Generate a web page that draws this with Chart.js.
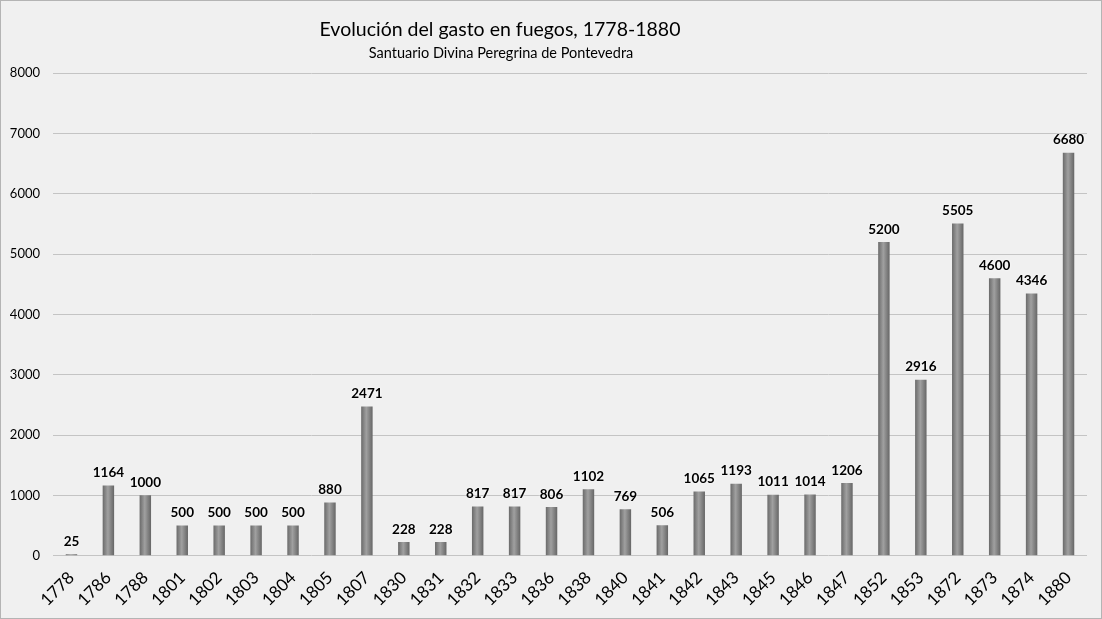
<!DOCTYPE html>
<html>
<head>
<meta charset="utf-8">
<script src="https://cdn.jsdelivr.net/npm/chart.js@4"></script>
<style>
  html, body { margin: 0; padding: 0; background: #f0f0f0; }
  #wrap { width: 1100px; height: 617px; border: 1px solid #b4b4b4; position: relative; }
</style>
</head>
<body>
<div id="wrap"><canvas id="gastoChart" width="1100" height="617"></canvas></div>
<script>
// datos del gráfico
const anios = ['1778', '1786', '1788', '1801', '1802', '1803', '1804', '1805', '1807', '1830',
    '1831', '1832', '1833', '1836', '1838', '1840', '1841', '1842', '1843', '1845',
    '1846', '1847', '1852', '1853', '1872', '1873', '1874', '1880'];
const gasto = [25, 1164, 1000, 500, 500, 500, 500, 880, 2471, 228,
    228, 817, 817, 806, 1102, 769, 506, 1065, 1193, 1011,
    1014, 1206, 5200, 2916, 5505, 4600, 4346, 6680];
const ticksY = [0, 1000, 2000, 3000, 4000, 5000, 6000, 7000, 8000];

const titulo = 'Evolución del gasto en fuegos, 1778-1880';
const subtitulo = 'Santuario Divina Peregrina de Pontevedra';

const FUENTE = 'Lato, "Open Sans", sans-serif';
const BAR_PCT = 0.31;

// degradado horizontal por barra (efecto cilindro)
function colorBarra(ctx) {
    const chart = ctx.chart;
    const x = chart.scales.x;
    if (!x || ctx.dataIndex === undefined) return '#8a8a8a';
    const cx = x.getPixelForValue(ctx.dataIndex);
    const w = (x.width / anios.length) * BAR_PCT;
    if (!isFinite(cx) || !isFinite(w) || w <= 0) return '#8a8a8a';
    const g = chart.ctx.createLinearGradient(cx - w / 2, 0, cx + w / 2, 0);
    g.addColorStop(0, '#6a6a6a');
    g.addColorStop(0.45, '#a0a0a0');
    g.addColorStop(1, '#666666');
    return g;
}

// títulos
const titulosPlugin = {
    id: 'titulos',
    afterDraw(chart) {
        const c = chart.ctx;
        c.save();
        c.fillStyle = '#000';
        c.textAlign = 'center';
        c.textBaseline = 'middle';
        c.font = '19.5px ' + FUENTE;
        c.fillText(titulo, 499, 29);
        c.font = '14.5px ' + FUENTE;
        c.fillText(subtitulo, 500, 52);
        c.restore();
    }
};

// etiquetas de valor sobre cada barra
const etiquetasPlugin = {
    id: 'etiquetas',
    afterDatasetsDraw(chart) {
        const c = chart.ctx;
        const meta = chart.getDatasetMeta(0);
        c.save();
        c.font = 'bold 13.5px ' + FUENTE;
        c.textAlign = 'center';
        c.textBaseline = 'bottom';
        c.fillStyle = '#000';
        c.shadowColor = 'rgba(255,255,255,0.9)';
        c.shadowBlur = 3;
        meta.data.forEach(function(bar, i) {
            c.fillText(String(gasto[i]), bar.x, bar.y - 6);
        });
        c.restore();
    }
};

new Chart(document.getElementById('gastoChart'), {
    type: 'bar',
    data: {
        labels: anios,
        datasets: [{
            label: 'Gasto',
            data: gasto,
            backgroundColor: colorBarra,
            borderWidth: 0,
            barPercentage: BAR_PCT,
            categoryPercentage: 1
        }]
    },
    options: {
        responsive: false,
        animation: false,
        layout: { padding: { top: 72, left: 9, right: 14, bottom: 4 } },
        plugins: {
            legend: { display: false },
            tooltip: { enabled: false }
        },
        scales: {
            x: {
                grid: { display: false },
                border: { display: false },
                afterFit(scale) {
                    // las etiquetas giradas pueden sobresalir a la izquierda
                    scale.paddingLeft = 0;
                    scale.paddingRight = 0;
                },
                ticks: {
                    autoSkip: false,
                    maxRotation: 45,
                    minRotation: 45,
                    color: '#000',
                    padding: 4,
                    font: { family: FUENTE, size: 17 }
                }
            },
            y: {
                min: 0,
                max: 8000,
                afterBuildTicks(axis) {
                    axis.ticks = ticksY.map(v => ({ value: v }));
                },
                afterFit(scale) {
                    scale.width = 43;
                },
                grid: { color: '#c4c4c4', lineWidth: 1, drawTicks: false },
                border: { display: false },
                ticks: {
                    color: '#000',
                    padding: 13,
                    font: { family: FUENTE, size: 13 },
                    callback: function(v) { return String(v); }
                }
            }
        }
    },
    plugins: [titulosPlugin, etiquetasPlugin]
});
</script>
</body>
</html>
